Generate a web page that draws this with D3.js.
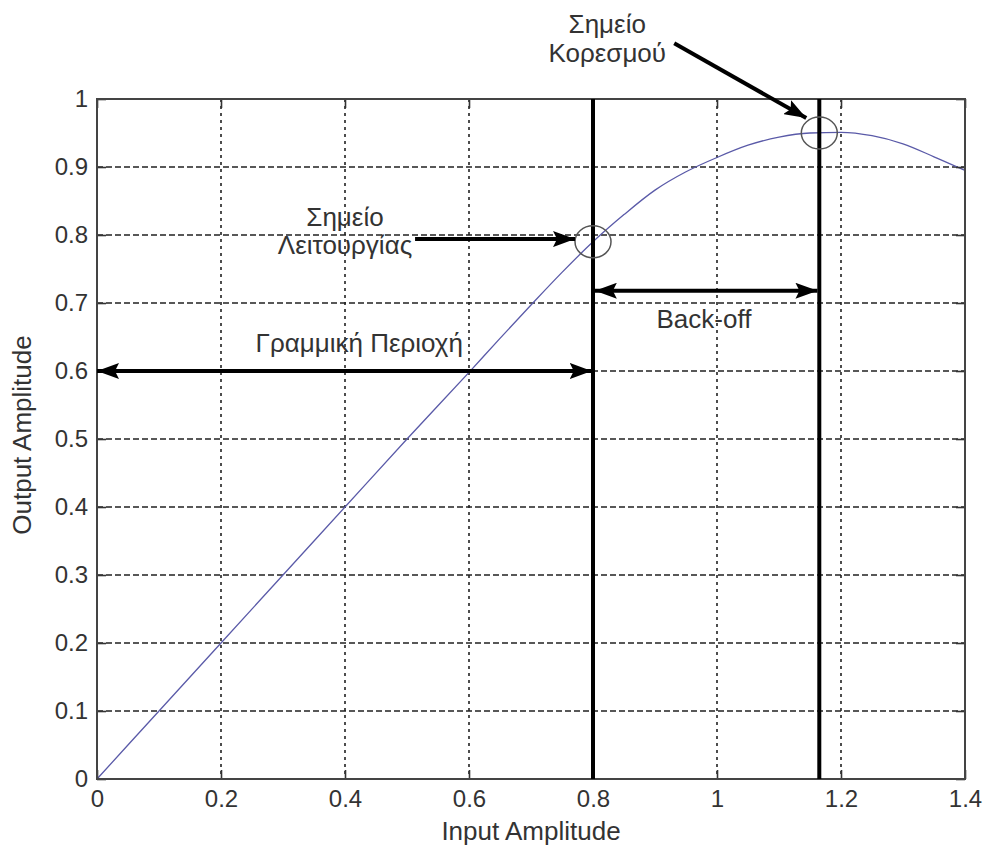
<!DOCTYPE html>
<html>
<head>
<meta charset="utf-8">
<script src="https://cdn.jsdelivr.net/npm/d3@7"></script>
<style>
  html, body { margin: 0; padding: 0; background: #fff; }
  svg { display: block; }
  text { font-family: "Liberation Sans", Arial, Helvetica, sans-serif; fill: #333; }
</style>
</head>
<body>
<svg id="chart" width="983" height="847"></svg>
<script>
// ---- data ----
const inputAmp  = [0, 0.1, 0.2, 0.3, 0.4, 0.5, 0.6, 0.65, 0.7, 0.75, 0.8, 0.85, 0.9, 0.95, 1.0, 1.05, 1.1, 1.15, 1.2, 1.25, 1.3, 1.35, 1.4];
const outputAmp = [0, 0.1, 0.2, 0.3, 0.4, 0.5, 0.598, 0.648, 0.697, 0.745, 0.79, 0.83, 0.866, 0.893, 0.914, 0.932, 0.944, 0.95, 0.951, 0.946, 0.934, 0.915, 0.895];
const xTicks = [0, 0.2, 0.4, 0.6, 0.8, 1, 1.2, 1.4];
const yTicks = [0, 0.1, 0.2, 0.3, 0.4, 0.5, 0.6, 0.7, 0.8, 0.9, 1];
const xLabel = "Input Amplitude";
const yLabel = "Output Amplitude";
const operatingPoint = [0.8, 0.79];
const saturationPoint = [1.165, 0.95];
const linearLabel = "Γραμμική Περιοχή";
const backoffLabel = "Back-off";
const operatingLabel = ["Σημείο", "Λειτουργίας"];
const saturationLabel = ["Σημείο", "Κορεσμού"];

// ---- layout ----
const svg = d3.select("#chart");
const L = 97, R = 965, T = 99, B = 779;
const x = d3.scaleLinear().domain([0, 1.4]).range([L, R]);
const y = d3.scaleLinear().domain([0, 1]).range([B, T]);

// defs: arrowheads
const defs = svg.append("defs");
function marker(id, orient) {
  defs.append("marker")
    .attr("id", id).attr("viewBox", "0 0 22 16")
    .attr("refX", 22).attr("refY", 8)
    .attr("markerWidth", 22).attr("markerHeight", 16)
    .attr("markerUnits", "userSpaceOnUse")
    .attr("orient", orient)
    .append("path").attr("d", "M0,0 L22,8 L0,16 L4,8 Z").attr("fill", "#000");
}
marker("arrow", "auto");
marker("arrowStart", "auto-start-reverse");

// grid
const g = svg.append("g");
g.selectAll(".vgrid").data(xTicks.filter(d => d > 0 && d < 1.4)).join("line")
  .attr("x1", d => x(d)).attr("x2", d => x(d)).attr("y1", T).attr("y2", B)
  .attr("stroke", "#222").attr("stroke-width", 1.6).attr("stroke-dasharray", "3,4");
g.selectAll(".hgrid").data(yTicks.filter(d => d > 0 && d < 1)).join("line")
  .attr("x1", L).attr("x2", R).attr("y1", d => y(d)).attr("y2", d => y(d))
  .attr("stroke", "#222").attr("stroke-width", 1.6).attr("stroke-dasharray", "6,3");

// curve
const line = d3.line().x((d, i) => x(inputAmp[i])).y(d => y(d)).curve(d3.curveMonotoneX);
svg.append("path").datum(outputAmp).attr("d", line)
  .attr("fill", "none").attr("stroke", "#5a5aa8").attr("stroke-width", 1.3);

// axes
const fmt = d => String(d);
const xAxis = svg.append("g").attr("transform", `translate(0,${B})`)
  .call(d3.axisBottom(x).tickValues(xTicks).tickSizeInner(-9).tickSizeOuter(0).tickPadding(11).tickFormat(fmt));
const xAxisTop = svg.append("g").attr("transform", `translate(0,${T})`)
  .call(d3.axisTop(x).tickValues(xTicks).tickSizeInner(-9).tickSizeOuter(0).tickFormat(""));
const yAxis = svg.append("g").attr("transform", `translate(${L},0)`)
  .call(d3.axisLeft(y).tickValues(yTicks).tickSizeInner(-9).tickSizeOuter(0).tickPadding(9).tickFormat(fmt));
const yAxisR = svg.append("g").attr("transform", `translate(${R},0)`)
  .call(d3.axisRight(y).tickValues(yTicks).tickSizeInner(-9).tickSizeOuter(0).tickFormat(""));
[xAxis, xAxisTop, yAxis, yAxisR].forEach(a => {
  a.select(".domain").remove();
  a.selectAll(".tick line").attr("stroke", "#333").attr("stroke-width", 1.6);
  a.selectAll(".tick text").attr("font-size", 24).attr("fill", "#333")
    .style("font-family", "'Liberation Sans', Arial, sans-serif");
});
svg.append("rect").attr("x", L).attr("y", T).attr("width", R - L).attr("height", B - T)
  .attr("fill", "none").attr("stroke", "#444").attr("stroke-width", 2);

// axis labels
svg.append("text").attr("x", (L + R) / 2).attr("y", 840).attr("text-anchor", "middle")
  .attr("font-size", 26).text(xLabel);
svg.append("text").attr("transform", `translate(31,${(T + B) / 2 - 4}) rotate(-90)`)
  .attr("text-anchor", "middle").attr("font-size", 26).text(yLabel);

// vertical thick lines
[operatingPoint[0], saturationPoint[0]].forEach(v => {
  svg.append("line").attr("x1", x(v)).attr("x2", x(v)).attr("y1", T).attr("y2", B)
    .attr("stroke", "#000").attr("stroke-width", 4);
});

// circles
[operatingPoint, saturationPoint].forEach(p => {
  svg.append("ellipse").attr("cx", x(p[0])).attr("cy", y(p[1])).attr("rx", 18).attr("ry", 16)
    .attr("fill", "none").attr("stroke", "#555").attr("stroke-width", 1.5);
});

// arrows
function arrow(x1, y1, x2, y2, both) {
  const l = svg.append("line").attr("x1", x(x1)).attr("y1", y(y1)).attr("x2", x(x2)).attr("y2", y(y2))
    .attr("stroke", "#000").attr("stroke-width", 4).attr("marker-end", "url(#arrow)");
  if (both) l.attr("marker-start", "url(#arrowStart)");
}
arrow(0, 0.6, 0.798, 0.6, true);               // linear region
arrow(0.803, 0.718, 1.162, 0.718, true);       // back-off
arrow(0.513, 0.794, 0.771, 0.794, false);      // operating point
arrow(0.931, 1.082, 1.144, 0.972, false);      // saturation point

// annotation texts
const ann = svg.append("g").attr("font-size", 26).attr("text-anchor", "middle");
ann.append("text").attr("x", x(0.423)).attr("y", y(0.628)).text(linearLabel);
ann.append("text").attr("x", x(0.979)).attr("y", y(0.663)).text(backoffLabel);
ann.append("text").attr("x", x(0.4)).attr("y", y(0.813)).text(operatingLabel[0]);
ann.append("text").attr("x", x(0.4)).attr("y", y(0.772)).text(operatingLabel[1]);
ann.append("text").attr("x", x(0.823)).attr("y", y(1.097)).text(saturationLabel[0]);
ann.append("text").attr("x", x(0.823)).attr("y", y(1.054)).text(saturationLabel[1]);
</script>
</body>
</html>
